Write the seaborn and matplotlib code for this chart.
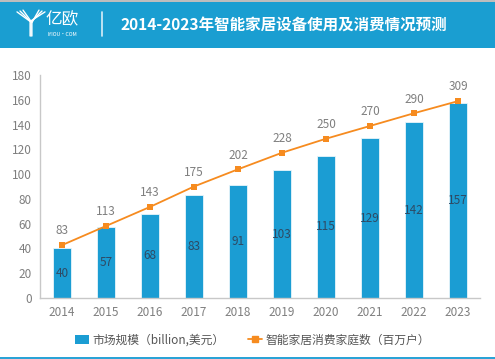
import matplotlib
matplotlib.use("Agg")
import matplotlib.pyplot as plt
import seaborn as sns
import pandas as pd
import numpy as np
from matplotlib.patches import Rectangle
from matplotlib.lines import Line2D

years = ["2014", "2015", "2016", "2017", "2018", "2019", "2020", "2021", "2022", "2023"]
market = [40, 57, 68, 83, 91, 103, 115, 129, 142, 157]
households = [83, 113, 143, 175, 202, 228, 250, 270, 290, 309]
title = "2014-2023年智能家居设备使用及消费情况预测"
bar_label = "市场规模（billion,美元）"
line_label = "智能家居消费家庭数（百万户）"

sns.set_theme(style="white")
plt.rcParams['font.family'] = ['Noto Sans CJK SC', 'DejaVu Sans']

BLUE = "#1b9dd3"
ORANGE = "#f68b1f"
GRAY = "#7f7f7f"

W, H = 495, 359
fig = plt.figure(figsize=(W / 100, H / 100), dpi=100)

# header band
fig.patches.append(Rectangle((0, 1 - 48 / H), 1, 47 / H, transform=fig.transFigure,
                             facecolor="#1a9ed1", edgecolor="none", zorder=0))
fig.patches.append(Rectangle((0, 1 - 1.5 / H), 1, 1.5 / H, transform=fig.transFigure,
                             facecolor="#bdbdbd", edgecolor="none", zorder=0))
# bottom border
fig.patches.append(Rectangle((0, 0), 1, 2.5 / H, transform=fig.transFigure,
                             facecolor="#2aa3d6", edgecolor="none", zorder=0))
# logo: striped "Y"
for k, off in enumerate([-3, 0, 3]):
    fig.add_artist(Line2D([(20 + off) / W, (31 + off * 0.3) / W, (31 + off * 0.3) / W],
                          [1 - (11 - off * 0.3) / H, 1 - (22 + off * 0.2) / H, 1 - 36 / H],
                          color="white", lw=1.0, transform=fig.transFigure))
    fig.add_artist(Line2D([(42 - off) / W, (31 + off * 0.3) / W],
                          [1 - (11 - off * 0.3) / H, 1 - (22 + off * 0.2) / H],
                          color="white", lw=1.0, transform=fig.transFigure))
fig.text(62 / W, 1 - 20 / H, "亿欧", color="white", fontsize=12, ha="center", va="center")
fig.text(62 / W, 1 - 34 / H, "IYIOU·COM", color="white", fontsize=3.8, ha="center", va="center")
fig.add_artist(Line2D([102 / W, 102 / W], [1 - 36 / H, 1 - 12 / H], color="#d8eef8",
                      lw=1.2, transform=fig.transFigure))
fig.text(284 / W, 1 - 24.5 / H, title, color="white", fontsize=11.2, fontweight="bold",
         ha="center", va="center")

ax = fig.add_axes([40 / W, (H - 298) / H, 440 / W, 223 / H])
df = pd.DataFrame({"year": years, "market": market, "households": households})
sns.barplot(data=df, x="year", y="market", color=BLUE, width=0.41, ax=ax,
            edgecolor="#e8f5fb", linewidth=0.6, saturation=1)
ax.set_ylim(0, 180)
ax.set_yticks(range(0, 181, 20))
ax.set_xlim(-0.5, 9.5)
ax.set_xlabel("")
ax.set_ylabel("")
ax.tick_params(axis="both", colors=GRAY, labelsize=8.5, length=0, pad=6)
for s in ["top", "right"]:
    ax.spines[s].set_visible(False)
for s in ["left", "bottom"]:
    ax.spines[s].set_color("#c8c8c8")
    ax.spines[s].set_linewidth(1)
for i, v in enumerate(market):
    ax.text(i, v / 2, str(v), ha="center", va="center", fontsize=8.5, color="#2e4a64", zorder=5)

ax2 = ax.twinx()
df["pos"] = np.arange(len(years))
sns.lineplot(data=df, x="pos", y="households", color=ORANGE, marker="s", markersize=4,
             markeredgewidth=0, linewidth=1.3, ax=ax2, legend=False)
ax2.set_ylim(0, 350)
ax2.axis("off")
for i, v in enumerate(households):
    ax2.text(i, v + 12, str(v), ha="center", va="bottom", fontsize=8.5, color=GRAY)

handles = [Rectangle((0, 0), 1, 1, facecolor=BLUE, edgecolor="none"),
           Line2D([0], [0], color=ORANGE, marker="s", markersize=4, lw=1.3)]
fig.legend(handles, [bar_label, line_label], loc="center", bbox_to_anchor=(0.51, 19 / H),
           ncol=2, frameon=False, fontsize=8.5, labelcolor="#555555", handlelength=1.2,
           handletextpad=0.3, columnspacing=2.0)

fig.savefig("out.png", dpi=100)
